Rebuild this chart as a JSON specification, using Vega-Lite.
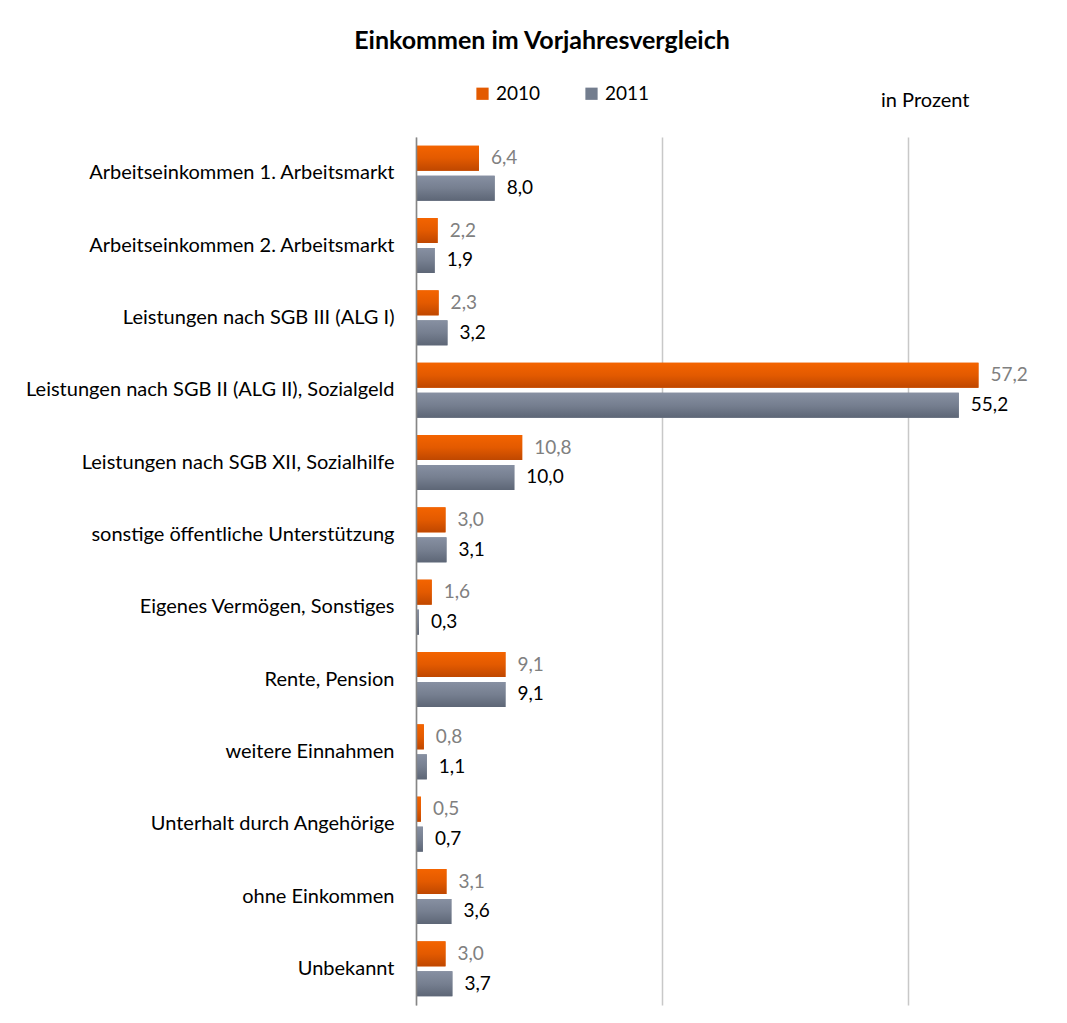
{
  "$schema": "https://vega.github.io/schema/vega-lite/v6.json",
  "autosize": {"type": "none"},
  "padding": {"left": 416, "top": 137, "right": 61, "bottom": 18},
  "width": 590,
  "height": 868,
  "background": "#ffffff",
  "title": {
    "text": "Einkommen im Vorjahresvergleich",
    "font": "Lato",
    "fontSize": 25,
    "fontWeight": "bold",
    "color": "#000000",
    "anchor": "middle",
    "frame": "group",
    "dx": -169,
    "offset": 30
  },
  "data": {
    "values": [
      {"k": "Arbeitseinkommen 1. Arbeitsmarkt", "year": "2010", "v": 6.4},
      {"k": "Arbeitseinkommen 1. Arbeitsmarkt", "year": "2011", "v": 8.0},
      {"k": "Arbeitseinkommen 2. Arbeitsmarkt", "year": "2010", "v": 2.2},
      {"k": "Arbeitseinkommen 2. Arbeitsmarkt", "year": "2011", "v": 1.9},
      {"k": "Leistungen nach SGB III (ALG I)", "year": "2010", "v": 2.3},
      {"k": "Leistungen nach SGB III (ALG I)", "year": "2011", "v": 3.2},
      {"k": "Leistungen nach SGB II (ALG II), Sozialgeld", "year": "2010", "v": 57.2},
      {"k": "Leistungen nach SGB II (ALG II), Sozialgeld", "year": "2011", "v": 55.2},
      {"k": "Leistungen nach SGB XII, Sozialhilfe", "year": "2010", "v": 10.8},
      {"k": "Leistungen nach SGB XII, Sozialhilfe", "year": "2011", "v": 10.0},
      {"k": "sonstige öffentliche Unterstützung", "year": "2010", "v": 3.0},
      {"k": "sonstige öffentliche Unterstützung", "year": "2011", "v": 3.1},
      {"k": "Eigenes Vermögen, Sonstiges", "year": "2010", "v": 1.6},
      {"k": "Eigenes Vermögen, Sonstiges", "year": "2011", "v": 0.3},
      {"k": "Rente, Pension", "year": "2010", "v": 9.1},
      {"k": "Rente, Pension", "year": "2011", "v": 9.1},
      {"k": "weitere Einnahmen", "year": "2010", "v": 0.8},
      {"k": "weitere Einnahmen", "year": "2011", "v": 1.1},
      {"k": "Unterhalt durch Angehörige", "year": "2010", "v": 0.5},
      {"k": "Unterhalt durch Angehörige", "year": "2011", "v": 0.7},
      {"k": "ohne Einkommen", "year": "2010", "v": 3.1},
      {"k": "ohne Einkommen", "year": "2011", "v": 3.6},
      {"k": "Unbekannt", "year": "2010", "v": 3.0},
      {"k": "Unbekannt", "year": "2011", "v": 3.7}
    ]
  },
  "encoding": {
    "y": {
      "field": "k",
      "type": "nominal",
      "sort": null,
      "scale": {"paddingInner": 0.24, "paddingOuter": 0.12},
      "axis": {
        "title": null,
        "ticks": false,
        "labelFont": "Lato",
        "labelFontSize": 20,
        "labelColor": "#000000",
        "labelPadding": 22,
        "labelLimit": 500,
        "domainColor": "#868686",
        "domainWidth": 1.5,
        "zindex": 2
      }
    },
    "yOffset": {
      "field": "year",
      "type": "nominal",
      "scale": {"paddingInner": 0.1667, "paddingOuter": 0}
    },
    "x": {
      "field": "v",
      "type": "quantitative",
      "scale": {"domain": [0, 60], "nice": false},
      "axis": {
        "orient": "top",
        "values": [0, 25, 50],
        "labels": false,
        "ticks": false,
        "domain": false,
        "grid": true,
        "gridColor": "#c8c8c8",
        "gridWidth": 1.5,
        "title": "in Prozent",
        "titleFont": "Lato",
        "titleFontSize": 20,
        "titleFontWeight": "normal",
        "titleColor": "#000000",
        "titleX": 553,
        "titleY": -31,
        "titleAlign": "right",
        "titleBaseline": "alphabetic",
        "zindex": 0
      }
    }
  },
  "layer": [
    {
      "mark": {"type": "bar"},
      "encoding": {
        "color": {
          "field": "year",
          "type": "nominal",
          "scale": {"domain": ["2010", "2011"], "range": ["#e35a00", "#737d8e"]},
          "legend": {
            "title": null,
            "orient": "none",
            "direction": "horizontal",
            "legendX": 57,
            "legendY": -53,
            "symbolType": "square",
            "symbolSize": 150,
            "symbolStrokeWidth": 0,
            "labelFont": "Lato",
            "labelFontSize": 19,
            "labelColor": "#000000",
            "labelOffset": 4,
            "columnPadding": 41,
            "padding": 0
          }
        }
      }
    },
    {
      "mark": {"type": "bar"},
      "encoding": {
        "fill": {
          "condition": {
            "test": "datum.year === '2010'",
            "value": {
              "gradient": "linear", "x1": 0, "y1": 0, "x2": 0, "y2": 1,
              "stops": [
                {"offset": 0, "color": "#f46400"},
                {"offset": 0.5, "color": "#e35a00"},
                {"offset": 1, "color": "#bf4700"}
              ]
            }
          },
          "value": {
            "gradient": "linear", "x1": 0, "y1": 0, "x2": 0, "y2": 1,
            "stops": [
              {"offset": 0, "color": "#8790a2"},
              {"offset": 0.5, "color": "#767f90"},
              {"offset": 1, "color": "#5d6676"}
            ]
          }
        }
      }
    },
    {
      "mark": {"type": "text", "align": "left", "baseline": "middle", "dx": 12, "font": "Lato", "fontSize": 19},
      "encoding": {
        "text": {"field": "v", "type": "quantitative", "format": ".1f"},
        "fill": {
          "condition": {"test": "datum.year === '2010'", "value": "#808080"},
          "value": "#000000"
        }
      }
    }
  ],
  "config": {
    "view": {"stroke": null},
    "locale": {
      "number": {"decimal": ",", "thousands": ".", "grouping": [3], "currency": ["", " €"]}
    }
  }
}
